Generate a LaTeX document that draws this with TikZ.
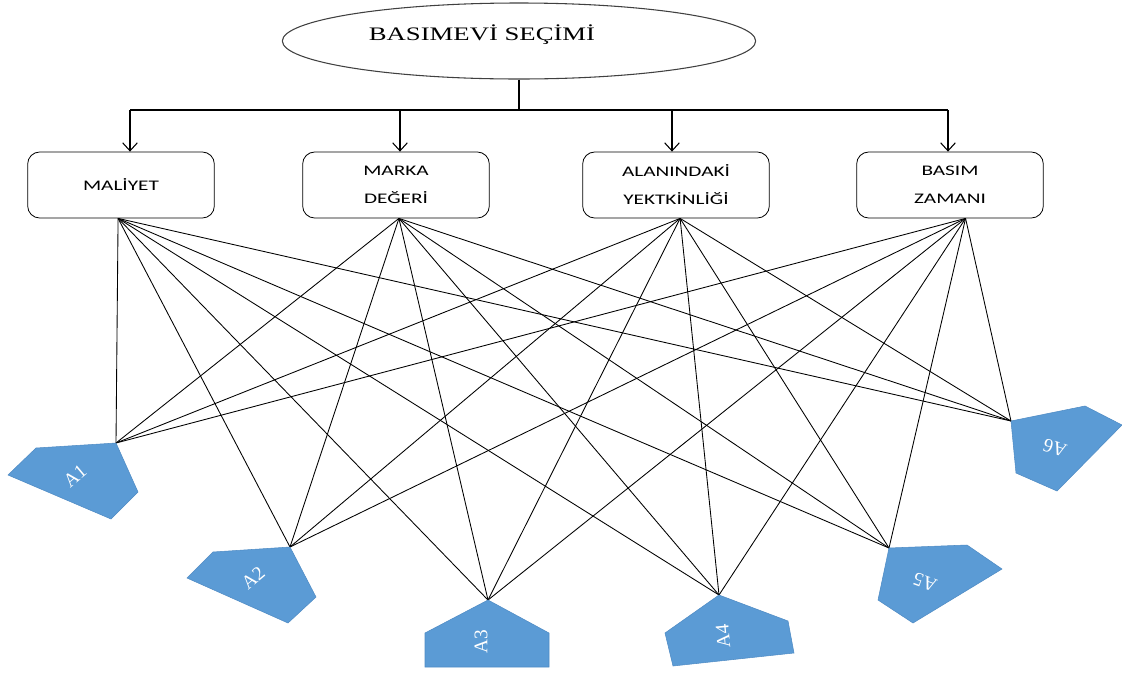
\documentclass[tikz,border=0pt]{standalone}
\usepackage{fontspec}
\usetikzlibrary{shapes.geometric,arrows.meta}
\newfontfamily\titlefont[FakeStretch=1.4]{Liberation Serif}
\newfontfamily\boxfont[FakeStretch=1.45]{Carlito}
\newfontfamily\altfont{Liberation Serif}
\definecolor{altblue}{HTML}{5B9BD5}
\definecolor{altedge}{HTML}{4F8BC4}

\begin{document}
\begin{tikzpicture}[x=0.75pt,y=-0.75pt,
        arrow/.style = {line width=0.8pt,-{Straight Barb[length=6pt,width=11pt]}},
        bus/.style = {line width=1.1pt},
        link/.style = {line width=0.65pt},
        crit/.style = {draw, line width=0.6pt, rounded corners=9pt,
            minimum width=140pt, minimum height=49.5pt, align=center,
            font=\boxfont\fontsize{11}{21}\selectfont},
        alt/.style = {fill=altblue, draw=altedge, line width=0.4pt},
        altlabel/.style = {text=white, font=\altfont\fontsize{14.5}{16}\selectfont}]
    \useasboundingbox (0,0) rectangle (1122,672);

    % goal
    \node[draw=black!75, line width=0.8pt, ellipse,
        minimum width=355pt, minimum height=57pt] (secim) at (519,41) {};
    \node[font=\titlefont\fontsize{14.3}{16}\selectfont] (title) at (482,35) {BASIMEVİ SEÇİMİ};

    % criteria
    \node[crit] (maliyet) at (121,185) {MALİYET};
    \node[crit] (marka) at (396,185) {MARKA\\DEĞERİ};
    \node[crit] (alan) at (676,185) {ALANINDAKİ\\YEKTKİNLİĞİ};
    \node[crit] (zaman) at (950,185) {BASIM\\ZAMANI};

    % tree lines
    \coordinate (hub) at (519,110);
    \coordinate (b1) at (130,110);
    \coordinate (b2) at (400,110);
    \coordinate (b3) at (672,110);
    \coordinate (b4) at (948,110);
    \draw[bus] (secim.south) -- (hub);
    \draw[bus] (b1) -- (b4);
    \draw[arrow] (b1) -- (b1 |- maliyet.north);
    \draw[arrow] (b2) -- (b2 |- marka.north);
    \draw[arrow] (b3) -- (b3 |- alan.north);
    \draw[arrow] (b4) -- (b4 |- zaman.north);

    % alternatives (top corners)
    \coordinate (t1) at (116,443);
    \coordinate (t2) at (290,547);
    \coordinate (t3) at (488,600);
    \coordinate (t4) at (719,595);
    \coordinate (t5) at (889,548);
    \coordinate (t6) at (1011,421);

    \foreach \src in {maliyet.-95,marka.-85,alan.-83,zaman.-65}
        \foreach \k in {1,...,6}
            \draw[link] (\src) -- (t\k);

    \draw[alt] (36,448) -- (t1) -- (138,492) -- (111,519) -- (8,475) -- cycle;
    \draw[alt] (213,552) -- (t2) -- (316,597) -- (288,623) -- (187,578) -- cycle;
    \draw[alt] (t3) -- (549,633) -- (549,667) -- (425,667) -- (425,633) -- cycle;
    \draw[alt] (t4) -- (788,621) -- (794,653) -- (673,666) -- (665,633) -- cycle;
    \draw[alt] (t5) -- (967,545) -- (1002,569) -- (913,623) -- (878,600) -- cycle;
    \draw[alt] (t6) -- (1085,406) -- (1122,425) -- (1057,491) -- (1016,473) -- cycle;

    \node[altlabel, rotate=40] (a1) at (75,476) {A1};
    \node[altlabel, rotate=40] (a2) at (253,578) {A2};
    \node[altlabel, rotate=90] (a3) at (481,642) {A3};
    \node[altlabel, rotate=95] (a4) at (723,636) {A4};
    \node[altlabel, rotate=160] (a5) at (925,582) {A5};
    \node[altlabel, rotate=162] (a6) at (1055,448) {A6};
\end{tikzpicture}
\end{document}
